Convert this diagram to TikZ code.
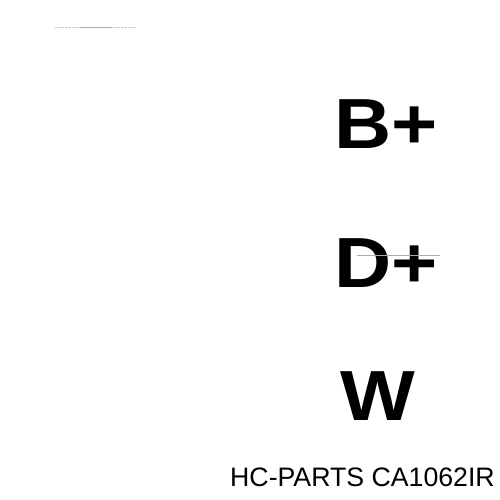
\documentclass[tikz,border=0pt]{standalone}
\usepackage{fontspec}
\setmainfont{Liberation Sans}
\newfontfamily\pinfont[FakeStretch=1.115]{Liberation Sans}
\begin{document}
\begin{tikzpicture}[x=1pt,y=1pt,yscale=-1,xscale=1]
    \tikzset{pin label/.style={anchor=base west, inner sep=0pt, font=\pinfont\fontsize{71}{71}\selectfont\bfseries},
             maker label/.style={anchor=base west, inner sep=0pt, font=\fontsize{26.7}{26.7}\selectfont}}
    %set diagram to 500 x 500
    \useasboundingbox (0,0) rectangle (500,500);
    
    %Straight Lines [id:top_rule] 
    \coordinate (ruleA) at (55,27);
    \coordinate (ruleB) at (135,27);
    \draw [color={rgb, 255:red, 200; green, 200; blue, 200 }, line width=0.4, densely dotted] (ruleA) -- (ruleB) ;
    \draw [color={rgb, 255:red, 175; green, 175; blue, 175 }, line width=0.4] (80,27) -- (112,27) ;
    
    %Text: pins
    \node [pin label] (bplus) at (334,148) {B+};
    \node [pin label] (dplus) at (334,287) {D+};
    \node [pin label] (wpin) at (340,420) {W};
    
    %Straight Lines [id:dplus_rule] 
    \coordinate (dA) at (357,255);
    \coordinate (dB) at (440,255);
    \draw [color={rgb, 255:red, 170; green, 170; blue, 170 }, line width=0.3] (dA) -- (dB) ;
    
    %Text: part number
    \node [maker label] (partno) at (230,486) {HC-PARTS CA1062IR};
    
\end{tikzpicture}
\end{document}
